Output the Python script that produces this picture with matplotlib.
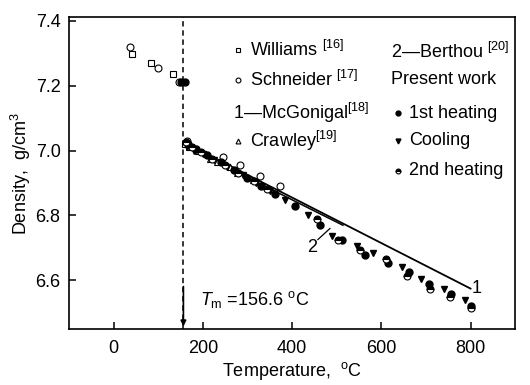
import matplotlib.pyplot as plt

plt.rcParams['font.family'] = ['Liberation Sans', 'DejaVu Sans']
plt.rcParams['mathtext.fontset'] = 'custom'
plt.rcParams['mathtext.rm'] = 'Liberation Sans'
plt.rcParams['mathtext.it'] = 'Liberation Sans:italic'
plt.rcParams['font.size'] = 13

# literature data
williams_T = [42, 85, 134, 160]
williams_D = [7.298, 7.27, 7.234, 7.02]
schneider_T = [36, 100, 147, 165, 246, 284, 328, 373]
schneider_D = [7.32, 7.255, 7.212, 7.03, 6.98, 6.955, 6.922, 6.89]
crawley_T = [170, 190, 217, 232, 261, 277, 313]
crawley_D = [7.01, 7.0, 6.975, 6.965, 6.95, 6.93, 6.908]
mcgonigal_T = [165, 800]
mcgonigal_D = [7.02, 6.575]
berthou_T = [165, 514]
berthou_D = [7.01, 6.77]

# present work
heat1_T = [152, 160, 168, 185, 210, 240, 270, 300, 330, 362, 407, 463, 512, 563, 615, 661, 708, 757, 800]
heat1_D = [7.212, 7.212, 7.02, 7.005, 6.985, 6.965, 6.94, 6.915, 6.89, 6.865, 6.83, 6.772, 6.726, 6.677, 6.655, 6.625, 6.588, 6.557, 6.52]
cool_T = [165, 180, 200, 225, 255, 290, 320, 350, 384, 436, 489, 545, 581, 646, 688, 740, 787]
cool_D = [7.01, 7.0, 6.99, 6.97, 6.95, 6.925, 6.9, 6.875, 6.849, 6.803, 6.738, 6.705, 6.686, 6.64, 6.603, 6.575, 6.54]
heat2_T = [162, 175, 195, 220, 250, 280, 315, 345, 456, 503, 552, 610, 658, 709, 753, 800]
heat2_D = [7.025, 7.01, 6.995, 6.975, 6.955, 6.93, 6.905, 6.88, 6.788, 6.723, 6.695, 6.665, 6.615, 6.575, 6.55, 6.515]

Tm = 156.6

fig = plt.figure(figsize=(5.3, 3.85), dpi=100)
ax = fig.add_axes([0.13, 0.145, 0.842, 0.81])

ms = 5
ax.plot(mcgonigal_T, mcgonigal_D, color='k', lw=1.3)
ax.plot(berthou_T, berthou_D, color='k', lw=1.1)
ax.plot(williams_T, williams_D, 's', ms=4.5, mfc='white', mec='k', mew=0.8)
ax.plot(schneider_T, schneider_D, 'o', ms=ms, mfc='white', mec='k', mew=0.8)
ax.plot(crawley_T, crawley_D, '^', ms=ms, mfc='white', mec='k', mew=0.8)
ax.plot(heat1_T, heat1_D, 'o', ms=ms, color='k')
ax.plot(cool_T, cool_D, 'v', ms=ms, color='k')
ax.plot(heat2_T, heat2_D, 'o', ms=ms, fillstyle='top', mfc='k', mfcalt='white', mec='k', mew=0.8)

ax.axvline(Tm, color='k', ls=(0, (3.5, 2.5)), lw=1.1)
ax.annotate('', xy=(Tm, 6.45), xytext=(Tm, 6.59),
            arrowprops=dict(arrowstyle='-|>', color='k', lw=1.2, mutation_scale=8))
ax.text(194, 6.54, r'$T_{\rm m}$ =156.6 $^{\rm o}$C', va='center', ha='left')

ax.text(813, 6.575, '1', ha='center', va='center')
ax.text(445, 6.70, '2', ha='center', va='center')
ax.plot([458, 485], [6.726, 6.76], color='k', lw=0.9)

# legend drawn by hand
t = ax.transAxes
lm = dict(transform=t, color='k', clip_on=False)
ax.plot(0.378, 0.896, 's', ms=3.5, mfc='white', mec='k', mew=0.8, **lm)
ax.text(0.406, 0.896, r'Williams $^{\rm [16]}$', transform=t, va='center')
ax.plot(0.378, 0.799, 'o', ms=3.5, mfc='white', mec='k', mew=0.8, **lm)
ax.text(0.406, 0.799, r'Schneider $^{\rm [17]}$', transform=t, va='center')
ax.text(0.368, 0.693, '1\u2014McGonigal$^{\\rm [18]}$', transform=t, va='center')
ax.plot(0.378, 0.605, '^', ms=3.5, mfc='white', mec='k', mew=0.8, **lm)
ax.text(0.406, 0.605, r'Crawley$^{\rm [19]}$', transform=t, va='center')

ax.text(0.722, 0.89, '2\u2014Berthou $^{\\rm [20]}$', transform=t, va='center')
ax.text(0.722, 0.80, 'Present work', transform=t, va='center')
ax.plot(0.738, 0.693, 'o', ms=3.5, **lm)
ax.text(0.762, 0.693, '1st heating', transform=t, va='center')
ax.plot(0.738, 0.605, 'v', ms=3.5, **lm)
ax.text(0.762, 0.605, 'Cooling', transform=t, va='center')
ax.plot(0.738, 0.508, 'o', ms=3.5, fillstyle='top', mfc='k', mfcalt='white', mec='k', mew=0.8, **lm)
ax.text(0.762, 0.508, '2nd heating', transform=t, va='center')

ax.set_xlim(-100, 900)
ax.set_ylim(6.45, 7.41)
ax.set_xticks([0, 200, 400, 600, 800])
ax.set_yticks([6.6, 6.8, 7.0, 7.2, 7.4])
ax.set_yticklabels(['6.6', '6.8', '7.0', '7.2', '7.4'])
ax.tick_params(direction='in', length=5, width=1.1, labelsize=13)
ax.tick_params(axis='x', pad=8)
ax.tick_params(axis='y', pad=6)
for s in ax.spines.values():
    s.set_linewidth(1.2)
ax.set_xlabel(r'Temperature,  $^{\rm o}$C', fontsize=13, labelpad=2)
ax.set_ylabel(r'Density,  g/cm$^3$', fontsize=13, labelpad=2)

fig.savefig('out.png', dpi=100)
